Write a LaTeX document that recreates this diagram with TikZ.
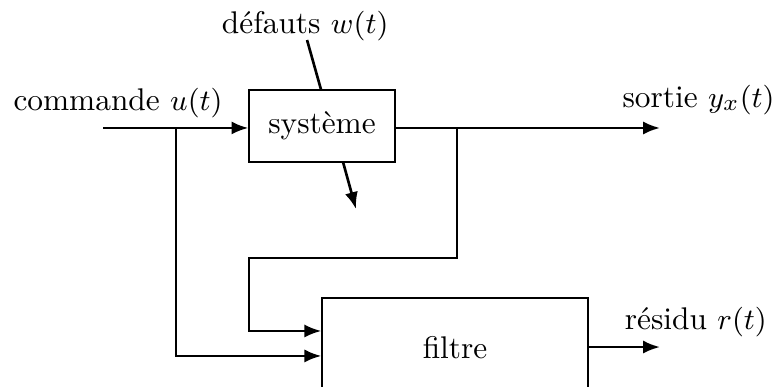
\documentclass[tikz,border=0pt]{standalone}
\usetikzlibrary{arrows.meta}
\begin{document}
\begin{tikzpicture}[thick, >={Latex[length=1.8mm,width=1.4mm]},
    font=\fontsize{9.5}{11}\selectfont,
    bloc/.style={draw, thin, rectangle, inner sep=0pt},
    label/.style={inner sep=1pt}]
    \useasboundingbox (0,0) rectangle (8.243,4.111);
    \clip (0,0) rectangle (8.243,4.111);
    % Nodes
    \node[bloc, minimum width=1.555cm, minimum height=0.767cm] (sys) at (3.43,2.77) {syst\`eme};
    \node[bloc, minimum width=2.833cm, minimum height=1.065cm] (filtre) at (4.846,0.405) {filtre};

    \node[label] (cmd) at (1.257,3.01) {commande $u(t)$};
    \node[label] (def) at (3.25,3.83) {d\'efauts $w(t)$};
    \node[label] (sortie) at (7.44,3.05) {sortie $y_x(t)$};
    \node[label] (res) at (7.41,0.68) {r\'esidu $r(t)$};

    \coordinate (in) at (1.097,2.748);
    \coordinate (w) at (3.27,3.685);
    \coordinate (wb) at (3.42,3.152);
    \coordinate (d1) at (3.653,2.386);
    \coordinate (d2) at (3.791,1.885);
    \coordinate (out) at (7.029,2.748);
    \coordinate (b1) at (1.874,2.748);
    \coordinate (b2) at (4.867,2.748);
    \coordinate (rout) at (7.029,0.415);
    % Connection
    \draw[->] (in) -- (sys.west |- in);
    \draw (w) -- (wb);
    \draw[->] (d1) -- (d2);
    \draw[->] (sys.east |- out) -- (out);
    \draw[->] (b2) |- (2.652,1.363) |- (filtre.west |- 0,0.586);
    \draw[->] (b1) |- (filtre.west |- 0,0.320);
    \draw[->] (filtre.east |- rout) -- (rout);
\end{tikzpicture}
\end{document}
